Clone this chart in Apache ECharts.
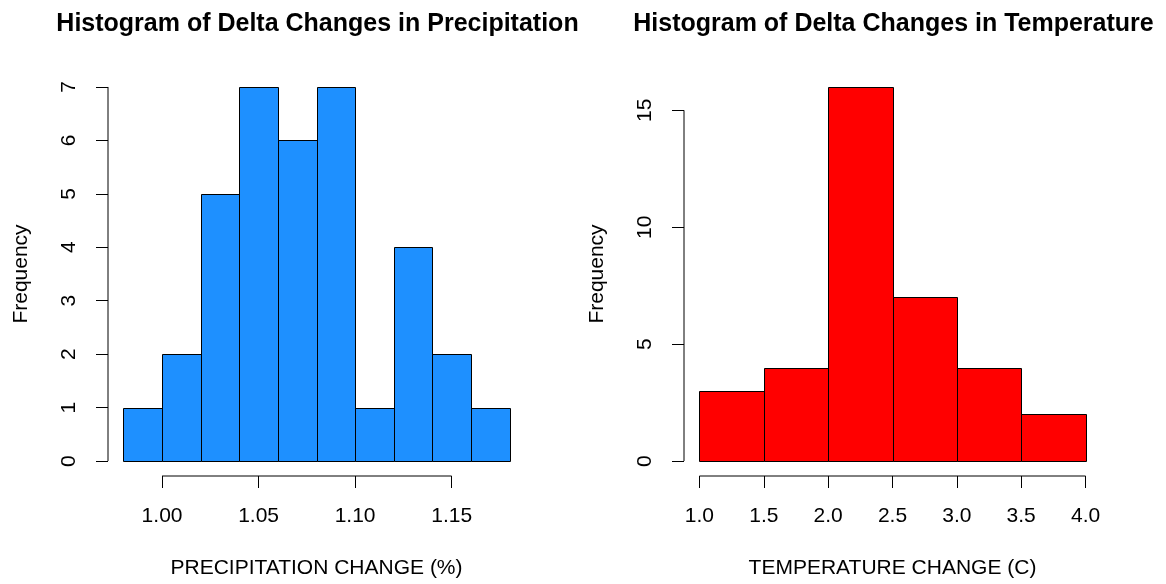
<!DOCTYPE html>
<html>
<head>
<meta charset="utf-8">
<script src="https://cdn.jsdelivr.net/npm/echarts@6/dist/echarts.min.js"></script>
<style>html,body{margin:0;padding:0;background:#fff}#c{width:1166px;height:584px}</style>
</head>
<body>
<div id="c"></div>
<script>
// ---- data ----
const precipBreaks = [0.98, 1.00, 1.02, 1.04, 1.06, 1.08, 1.10, 1.12, 1.14, 1.16, 1.18];
const precipCounts = [1, 2, 5, 7, 6, 7, 1, 4, 2, 1];
const precipXTicks = [1.00, 1.05, 1.10, 1.15];
const precipYTicks = [0, 1, 2, 3, 4, 5, 6, 7];

const tempBreaks = [1.0, 1.5, 2.0, 2.5, 3.0, 3.5, 4.0];
const tempCounts = [3, 4, 16, 7, 4, 2];
const tempXTicks = [1.0, 1.5, 2.0, 2.5, 3.0, 3.5, 4.0];
const tempYTicks = [0, 5, 10, 15];

const titles = ['Histogram of Delta Changes in Precipitation', 'Histogram of Delta Changes in Temperature'];
const xNames = ['PRECIPITATION CHANGE (%)', 'TEMPERATURE CHANGE (C)'];
const yName = 'Frequency';

// ---- build ----
const FONT = "'Liberation Sans', Arial, sans-serif";
const FS = 21;
function bins(breaks, counts) {
  return counts.map((c, i) => [breaks[i], breaks[i + 1], c]);
}
function pad(lo, hi) { const d = (hi - lo) * 0.04; return [lo - d, hi + d]; }

const panels = [
  {breaks: precipBreaks, counts: precipCounts, xt: precipXTicks, yt: precipYTicks, color: '#1E90FF', dec: 2},
  {breaks: tempBreaks, counts: tempCounts, xt: tempXTicks, yt: tempYTicks, color: '#FF0000', dec: 1}
];
const gridLefts = [108, 684];
const gridWidth = 417;

const option = {
  animation: false,
  backgroundColor: '#fff',
  title: [], grid: [], xAxis: [], yAxis: [], series: []
};

panels.forEach((p, i) => {
  const xr = pad(p.breaks[0], p.breaks[p.breaks.length - 1]);
  const yr = pad(0, Math.max(...p.counts));
  option.title.push({
    text: titles[i], left: gridLefts[i] + gridWidth / 2 - 4, top: 7, textAlign: 'center',
    textStyle: {fontFamily: FONT, fontWeight: 'bold', fontSize: 25, color: '#000'}
  });
  option.grid.push({left: gridLefts[i], width: gridWidth, top: 72, height: 404});
  option.xAxis.push({
    type: 'value', gridIndex: i, min: xr[0], max: xr[1],
    axisLine: {show: false, onZero: false}, splitLine: {show: false},
    axisTick: {show: true, length: 12, customValues: p.xt, lineStyle: {color: '#000'}},
    axisLabel: {customValues: p.xt, margin: 30, fontFamily: FONT, fontSize: FS, color: '#000',
      formatter: v => Number(v).toFixed(p.dec)},
    name: xNames[i], nameLocation: 'middle', nameGap: 82,
    nameTextStyle: {fontFamily: FONT, fontSize: FS, color: '#000', verticalAlign: 'top'}
  });
  option.yAxis.push({
    type: 'value', gridIndex: i, min: yr[0], max: yr[1],
    axisLine: {show: false, onZero: false}, splitLine: {show: false},
    axisTick: {show: true, length: 12, customValues: p.yt, lineStyle: {color: '#000'}},
    axisLabel: {customValues: p.yt, rotate: 90, margin: 28, fontFamily: FONT, fontSize: FS, color: '#000'},
    name: yName, nameLocation: 'middle', nameGap: 76, nameRotate: 90,
    nameTextStyle: {fontFamily: FONT, fontSize: FS, color: '#000'}
  });
  option.series.push({
    type: 'custom', xAxisIndex: i, yAxisIndex: i, clip: false,
    data: bins(p.breaks, p.counts),
    encode: {x: [0, 1], y: 2},
    renderItem: (params, api) => {
      const a = api.coord([api.value(0), 0]);
      const b = api.coord([api.value(1), api.value(2)]);
      return {
        type: 'rect',
        shape: {x: Math.round(a[0]) + 0.5, y: Math.round(b[1]) + 0.5,
                width: Math.round(b[0]) - Math.round(a[0]), height: Math.round(a[1]) - Math.round(b[1])},
        style: {fill: p.color, stroke: '#000', lineWidth: 1}
      };
    }
  });
  // axis lines spanning only the tick range
  option.series.push({
    type: 'line', xAxisIndex: i, yAxisIndex: i, clip: false, silent: true, symbol: 'none',
    lineStyle: {color: '#000', width: 1},
    data: [[p.xt[0], yr[0]], [p.xt[p.xt.length - 1], yr[0]]]
  });
  option.series.push({
    type: 'line', xAxisIndex: i, yAxisIndex: i, clip: false, silent: true, symbol: 'none',
    lineStyle: {color: '#000', width: 1},
    data: [[xr[0], p.yt[0]], [xr[0], p.yt[p.yt.length - 1]]]
  });
});

const chart = echarts.init(document.getElementById('c'), null, {renderer: 'canvas'});
chart.setOption(option);
</script>
</body>
</html>
